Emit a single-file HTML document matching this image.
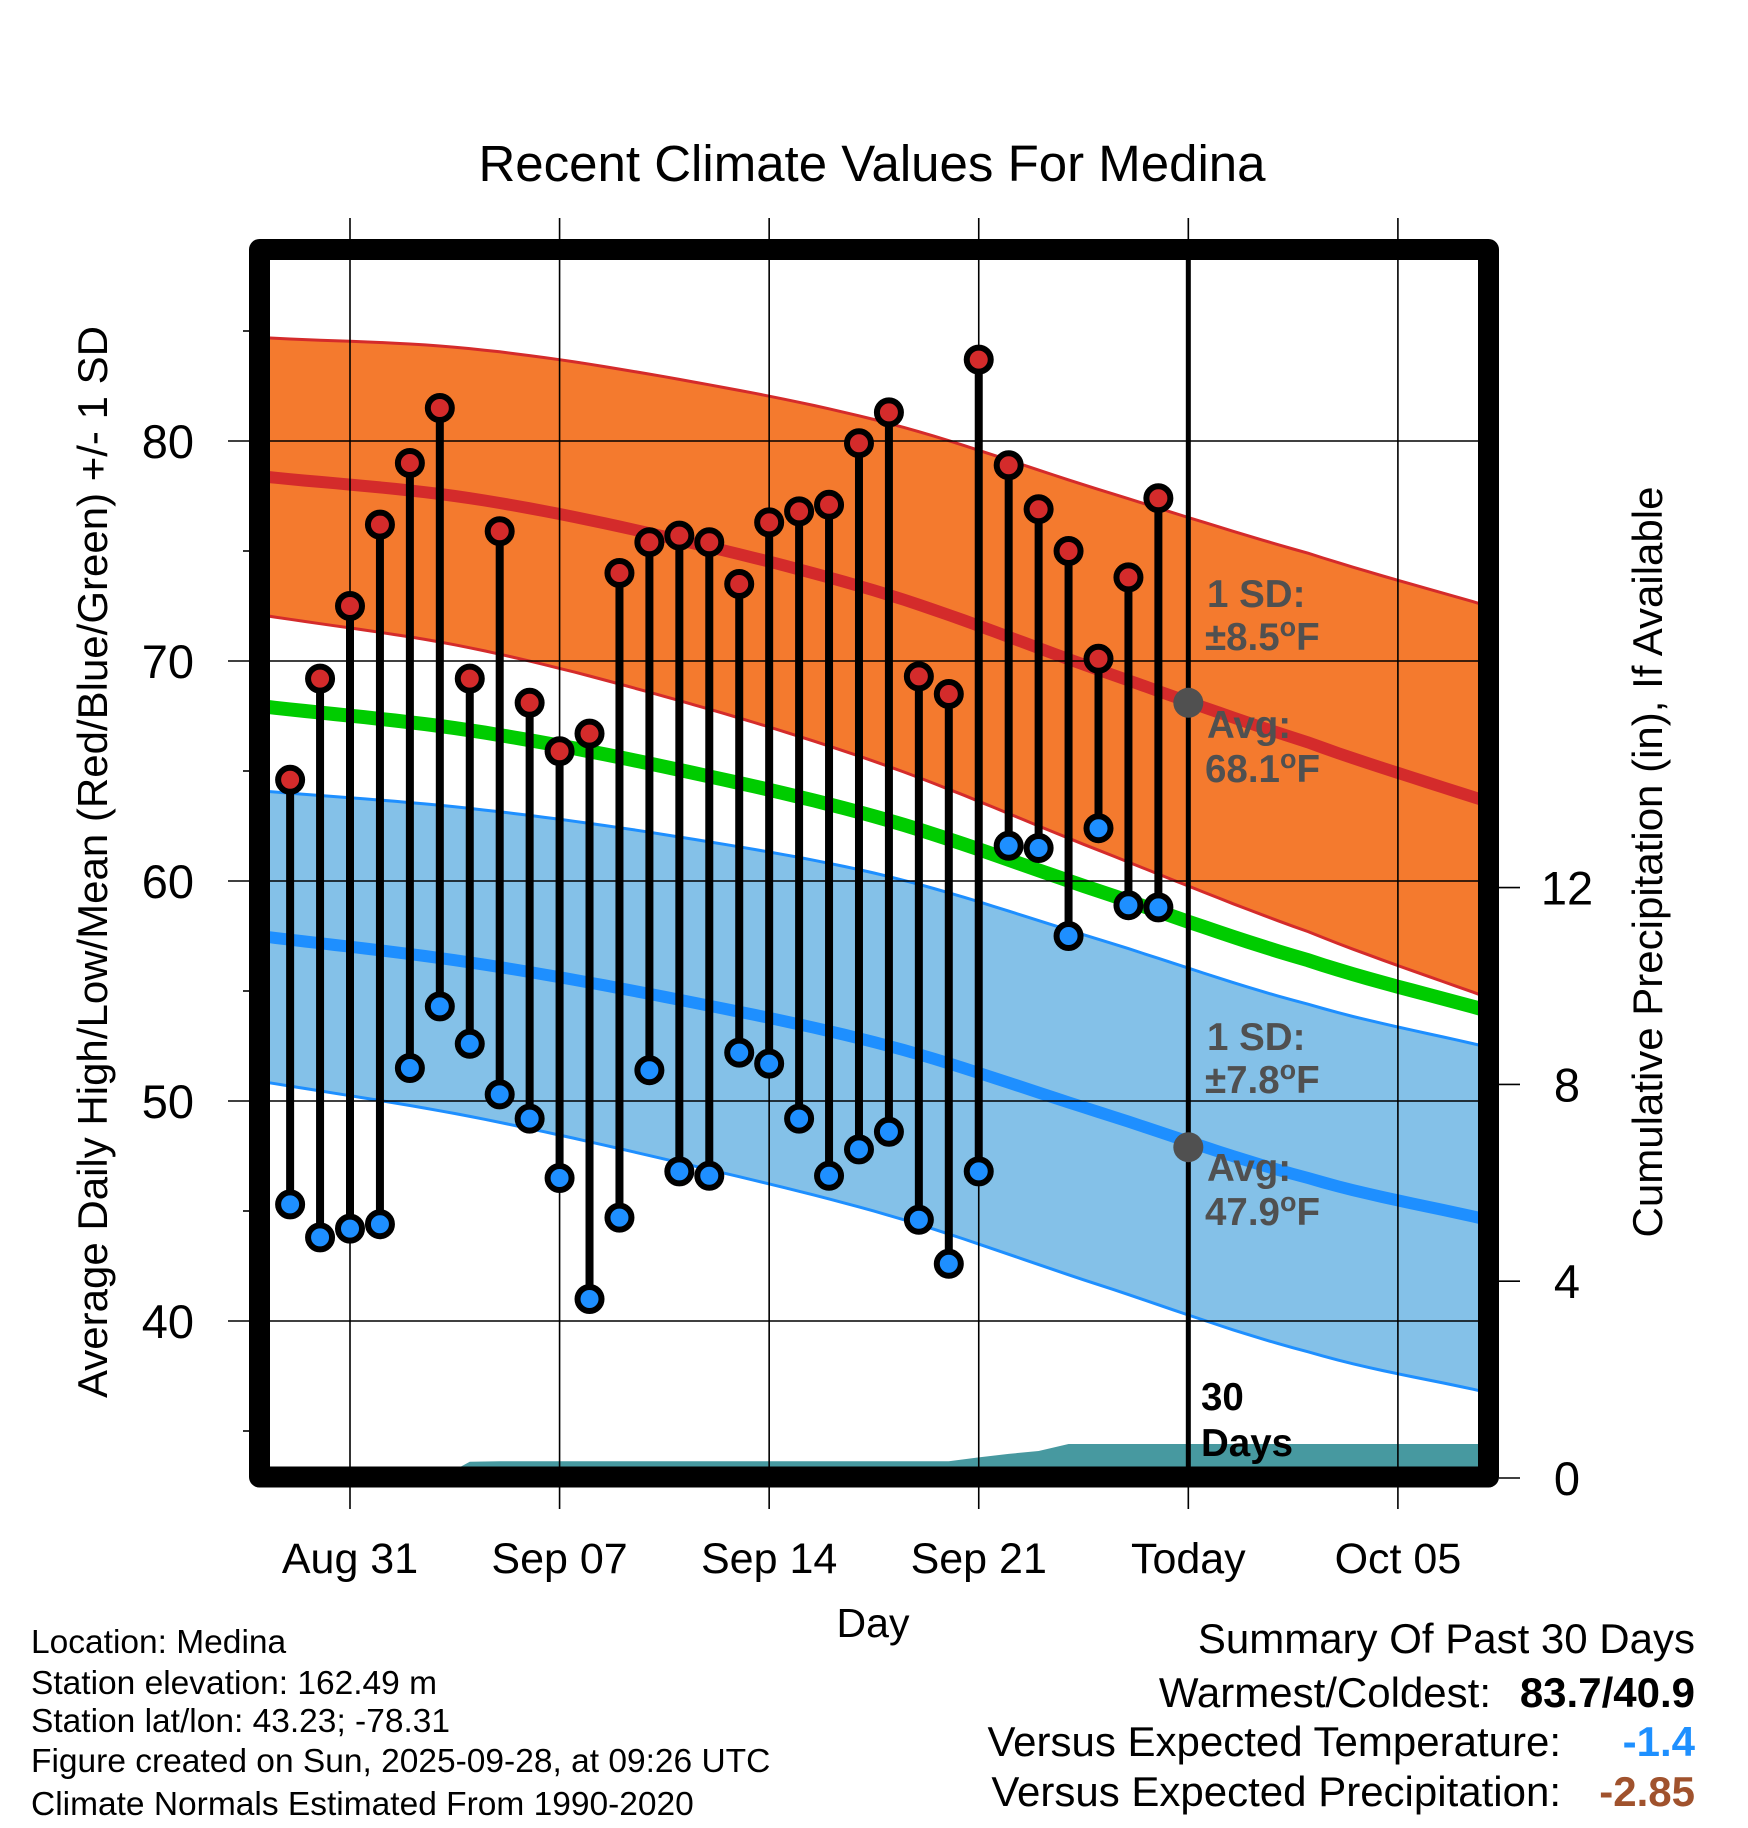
<!DOCTYPE html>
<html><head><meta charset="utf-8">
<style>
html,body{margin:0;padding:0;background:#fff;}
svg{display:block;font-family:"Liberation Sans",Arial,sans-serif;}
</style></head>
<body>
<svg id="chart" width="1748" height="1828" viewBox="0 0 1748 1828" xmlns="http://www.w3.org/2000/svg">
<defs><clipPath id="plotclip"><rect x="270" y="260" width="1208" height="1207"/></clipPath></defs>
<text x="872" y="181" font-size="51" text-anchor="middle">Recent Climate Values For Medina</text>
<g id="bands" clip-path="url(#plotclip)"></g>
<g id="axes"></g>
<g id="marks"></g>
<text transform="translate(107,862) rotate(-90)" font-size="42" text-anchor="middle">Average Daily High/Low/Mean (Red/Blue/Green) +/- 1 SD</text>
<text transform="translate(1662,862) rotate(-90)" font-size="42" text-anchor="middle">Cumulative Precipitation (in), If Available</text>
<text x="873" y="1637" font-size="41" text-anchor="middle">Day</text>
<g font-size="33.5">
<text x="31" y="1653">Location: Medina</text>
<text x="31" y="1694">Station elevation: 162.49 m</text>
<text x="31" y="1732">Station lat/lon: 43.23; -78.31</text>
<text x="31" y="1772">Figure created on Sun, 2025-09-28, at 09:26 UTC</text>
<text x="31" y="1815">Climate Normals Estimated From 1990-2020</text>
</g>
<g font-size="42">
<text x="1695" y="1653" text-anchor="end">Summary Of Past 30 Days</text>
<text x="1491" y="1707" text-anchor="end">Warmest/Coldest:</text>
<text x="1695" y="1707" text-anchor="end" font-weight="bold">83.7/40.9</text>
<text x="1561" y="1756" text-anchor="end">Versus Expected Temperature:</text>
<text x="1695" y="1756" text-anchor="end" font-weight="bold" fill="#1e90ff">-1.4</text>
<text x="1561" y="1806" text-anchor="end">Versus Expected Precipitation:</text>
<text x="1695" y="1806" text-anchor="end" font-weight="bold" fill="#a0522d">-2.85</text>
</g>
</svg>
<script>
// ---- data ----
const dayOffsets = [-2,-1,0,1,2,3,4,5,6,7,8,9,10,11,12,13,14,15,16,17,18,19,20,21,22,23,24,25,26,27];
const highs = [64.6,69.2,72.5,76.2,79.0,81.5,69.2,75.9,68.1,65.9,66.7,74.0,75.4,75.7,75.4,73.5,76.3,76.8,77.1,79.9,81.3,69.3,68.5,83.7,78.9,76.9,75.0,70.1,73.8,77.4];
const lows = [45.3,43.8,44.2,44.4,51.5,54.3,52.6,50.3,49.2,46.5,41.0,44.7,51.4,46.8,46.6,52.2,51.7,49.2,46.6,47.8,48.6,44.6,42.6,46.8,61.6,61.5,57.5,62.4,58.9,58.8];
const precip = [0,0,0,0,0,0,0.33,0.34,0.34,0.34,0.34,0.34,0.34,0.34,0.34,0.34,0.34,0.34,0.34,0.34,0.34,0.34,0.34,0.42,0.49,0.55,0.69,0.69,0.69,0.69];
const normDays = [-3,4,11,18,25,32,38];
const avgHigh = [78.4,77.4,75.5,73.0,69.6,66.3,63.6];
const hiSD = [6.3,6.8,7.3,7.8,8.2,8.6,8.9];
const avgLow = [57.5,56.3,54.6,52.5,49.5,46.5,44.6];
const loSD = [6.6,7.0,7.4,7.7,7.85,7.9,7.85];
const xTickDays = [0,7,14,21,28,35];
const xTickLabels = ["Aug 31","Sep 07","Sep 14","Sep 21","Today","Oct 05"];
const yTicks = [40,50,60,70,80];
const y2Ticks = [0,4,8,12];
const todayDay = 28;
const todayAvgHigh = 68.1, todayAvgLow = 47.9;

// ---- scales ----
function X(d){return 350 + d*29.94;}
function Y(v){return 441 + (80-v)*22;}
function PY(p){return 1478 - p*49.2;}
const NS='http://www.w3.org/2000/svg';
function mk(tag,attrs,parent){const e=document.createElementNS(NS,tag);for(const k in attrs)e.setAttribute(k,attrs[k]);parent.appendChild(e);return e;}
function interp(arr,d){
  const n=normDays.length;
  let i=0;
  while(i<n-2 && d>normDays[i+1]) i++;
  const t=(d-normDays[i])/(normDays[i+1]-normDays[i]);
  const p0=arr[Math.max(i-1,0)], p1=arr[i], p2=arr[i+1], p3=arr[Math.min(i+2,n-1)];
  const m1=(i>0)?(p2-p0)/2:(p2-p1), m2=(i+2<n)?(p3-p1)/2:(p2-p1);
  const t2=t*t,t3=t2*t;
  return (2*t3-3*t2+1)*p1+(t3-2*t2+t)*m1+(-2*t3+3*t2)*p2+(t3-t2)*m2;
}
const bands=document.getElementById('bands');
const axes=document.getElementById('axes');
const marks=document.getElementById('marks');
const samp=[];for(let d=-3;d<=38.01;d+=0.5)samp.push(d);
function curve(fn){return samp.map(d=>X(d).toFixed(1)+','+Y(fn(d)).toFixed(1));}
function band(fa,fb,fill,stroke,name){
  const pts=curve(fa).concat(curve(fb).reverse());
  const p=mk('polygon',{points:pts.join(' '),fill:fill},bands);
  
  
  const l1=mk('polyline',{points:curve(fa).join(' '),fill:'none',stroke:stroke,'stroke-width':3},bands);
  
  
  const l2=mk('polyline',{points:curve(fb).join(' '),fill:'none',stroke:stroke,'stroke-width':3},bands);
  
  
}
const aH=d=>interp(avgHigh,d), sH=d=>interp(hiSD,d), aL=d=>interp(avgLow,d), sL=d=>interp(loSD,d);
band(d=>aL(d)+sL(d),d=>aL(d)-sL(d),'#84c1e8','#1e8fff','low-sd-band');
band(d=>aH(d)+sH(d),d=>aH(d)-sH(d),'#f47a2e','#d42b2b','high-sd-band');
let ln=mk('polyline',{points:curve(d=>(aH(d)+aL(d))/2).join(' '),fill:'none',stroke:'#00cc00','stroke-width':14},bands);


ln=mk('polyline',{points:curve(aH).join(' '),fill:'none',stroke:'#d42b2b','stroke-width':12},bands);


ln=mk('polyline',{points:curve(aL).join(' '),fill:'none',stroke:'#1e8fff','stroke-width':12},bands);


// precip area
let pp=[X(dayOffsets[0])+','+PY(0)];
dayOffsets.forEach((d,i)=>pp.push(X(d)+','+PY(precip[i])));
pp.push(X(40)+','+PY(precip[precip.length-1]));pp.push(X(40)+','+PY(0));
const pa=mk('polygon',{points:pp.join(' '),fill:'#4799a0'},bands);


// grid
xTickDays.forEach((d,i)=>{
  const g=mk('line',{x1:X(d),x2:X(d),y1:218,y2:1509,stroke:'#000','stroke-width':1.6},axes);
  
  
  const t=mk('text',{x:X(d),y:1573,'font-size':43,'text-anchor':'middle'},axes);
  t.textContent=xTickLabels[i];
  
  
});
yTicks.forEach(v=>{
  const g=mk('line',{x1:228,x2:1478,y1:Y(v),y2:Y(v),stroke:'#000','stroke-width':1.6},axes);
  
  
  const t=mk('text',{x:194,y:Y(v)+17,'font-size':47,'text-anchor':'end'},axes);
  t.textContent=v;
  
  
});
for(let v=35;v<=85;v+=10){
  const g=mk('line',{x1:243,x2:250,y1:Y(v),y2:Y(v),stroke:'#000','stroke-width':1.6},axes);
  
  
}
y2Ticks.forEach(p=>{
  const g=mk('line',{x1:1499,x2:1520,y1:PY(p),y2:PY(p),stroke:'#000','stroke-width':1.6},axes);
  
  
  const t=mk('text',{x:1567,y:PY(p)+17,'font-size':47,'text-anchor':'middle'},axes);
  t.textContent=p;
  
  
});
// stems and markers
dayOffsets.forEach((d,i)=>{
  const s=mk('line',{x1:X(d),x2:X(d),y1:Y(highs[i]),y2:Y(lows[i]),stroke:'#000','stroke-width':8},marks);
  
  
});
dayOffsets.forEach((d,i)=>{
  const h=mk('circle',{cx:X(d),cy:Y(highs[i]),r:12,fill:'#d42b2b',stroke:'#000','stroke-width':6},marks);
  
  
  const l=mk('circle',{cx:X(d),cy:Y(lows[i]),r:12,fill:'#1e8fff',stroke:'#000','stroke-width':6},marks);
  
  
});
// today line, dots
let tl=mk('line',{x1:X(todayDay),x2:X(todayDay),y1:255,y2:1470,stroke:'#000','stroke-width':5},marks);


let dt=mk('circle',{cx:X(todayDay),cy:Y(todayAvgHigh),r:15,fill:'#505050'},marks);


dt=mk('circle',{cx:X(todayDay),cy:Y(todayAvgLow),r:15,fill:'#505050'},marks);


// frame
const fr=mk('rect',{x:259.5,y:249.5,width:1229,height:1227.5,fill:'none',stroke:'#000','stroke-width':21,'stroke-linejoin':'round'},marks);


// annotations
function ann(x,y,txt,deg,name,color){
  const t=mk('text',{x:x,y:y,'font-size':38.5,'font-weight':'bold',fill:color},marks);
  
  
  if(deg){
    const a=document.createElementNS(NS,'tspan');a.textContent=txt;t.appendChild(a);
    const o=document.createElementNS(NS,'tspan');o.setAttribute('font-size','27');o.setAttribute('dy','-14');o.textContent='o';t.appendChild(o);
    const f=document.createElementNS(NS,'tspan');f.setAttribute('dy','14');f.textContent='F';t.appendChild(f);
  } else t.textContent=txt;
}
ann(1207,607,'1 SD:',false,'high-sd-label','#505050');
ann(1205,650,'\u00b18.5',true,'high-sd-value','#505050');
ann(1207,738,'Avg:',false,'avg-high-label','#505050');
ann(1205,782,'68.1',true,'avg-high-value','#505050');
ann(1207,1050,'1 SD:',false,'low-sd-label','#505050');
ann(1205,1093,'\u00b17.8',true,'low-sd-value','#505050');
ann(1207,1181,'Avg:',false,'avg-low-label','#505050');
ann(1205,1225,'47.9',true,'avg-low-value','#505050');
ann(1201,1410,'30',false,'days-label-number','#000');
ann(1201,1456,'Days',false,'days-label-text','#000');
</script>
</body></html>
